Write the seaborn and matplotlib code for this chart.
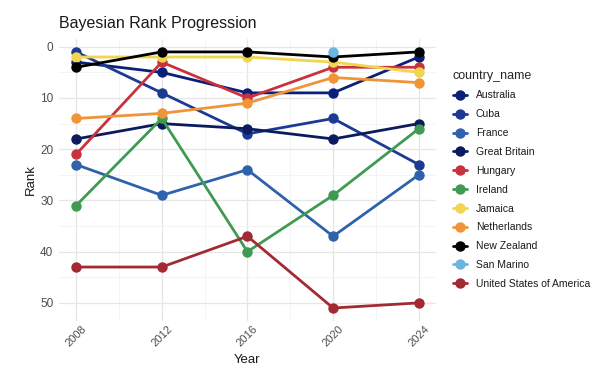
import matplotlib
matplotlib.use("Agg")
import matplotlib.pyplot as plt
import seaborn as sns
import pandas as pd
import numpy as np
from matplotlib.ticker import MultipleLocator

years = [2008, 2012, 2016, 2020, 2024]
countries = ["Australia", "Cuba", "France", "Great Britain", "Hungary", "Ireland",
             "Jamaica", "Netherlands", "New Zealand", "San Marino", "United States of America"]
australia = [3, 5, 9, 9, 2]
cuba = [1, 9, 17, 14, 23]
france = [23, 29, 24, 37, 25]
great_britain = [18, 15, 16, 18, 15]
hungary = [21, 3, 10, 4, 4]
ireland = [31, 14, 40, 29, 16]
jamaica = [2, 2, 2, 3, 5]
netherlands = [14, 13, 11, 6, 7]
new_zealand = [4, 1, 1, 2, 1]
san_marino_years = [2020]
san_marino = [1]
usa = [43, 43, 37, 51, 50]

colors = ["#0a1f7a", "#1a3a94", "#2f62aa", "#0b1b5e", "#c8323c", "#3f9a52",
          "#f2d54e", "#ef9538", "#000000", "#6cb4e2", "#a32a32"]

series = {
    "Australia": (years, australia), "Cuba": (years, cuba), "France": (years, france),
    "Great Britain": (years, great_britain), "Hungary": (years, hungary),
    "Ireland": (years, ireland), "Jamaica": (years, jamaica),
    "Netherlands": (years, netherlands), "New Zealand": (years, new_zealand),
    "San Marino": (san_marino_years, san_marino), "United States of America": (years, usa),
}
rows = []
for c in countries:
    xs, ys = series[c]
    for x, y in zip(xs, ys):
        rows.append({"Year": x, "Rank": y, "country_name": c})
df = pd.DataFrame(rows)

sns.set_theme(style="whitegrid")
plt.rcParams['font.family'] = ['Liberation Sans', 'DejaVu Sans']

fig = plt.figure(figsize=(6.14, 3.87), dpi=100)
ax = fig.add_axes([0.096, 0.171, 0.614, 0.728])
sns.lineplot(data=df, x="Year", y="Rank", hue="country_name", hue_order=countries,
             palette=dict(zip(countries, colors)), marker="o", markersize=7.5,
             markeredgewidth=0, linewidth=2.0, ax=ax, legend=True)

ax.set_xlim(2007.2, 2024.8)
ax.set_ylim(53.5, -1.5)
ax.set_xticks(years)
ax.set_xticklabels([str(y) for y in years], rotation=45, fontsize=8, color="#4d4d4d")
ax.yaxis.set_major_locator(MultipleLocator(10))
ax.yaxis.set_minor_locator(MultipleLocator(5))
ax.xaxis.set_minor_locator(MultipleLocator(2))
ax.tick_params(axis="y", labelsize=8.5, colors="#4d4d4d", length=0, pad=4)
ax.tick_params(axis="x", length=0, pad=2)
ax.grid(which="major", color="#e6e6e6", linewidth=0.9)
ax.grid(which="minor", color="#f0f0f0", linewidth=0.5)
for s in ax.spines.values():
    s.set_visible(False)
ax.set_xlabel("Year", fontsize=9.5, color="#1a1a1a")
ax.set_ylabel("Rank", fontsize=9.5, color="#1a1a1a", labelpad=2)
ax.set_title("Bayesian Rank Progression", fontsize=11.5, loc="left", x=0.0, pad=8, color="#1a1a1a")

leg = ax.legend(title="country_name", loc="upper left", bbox_to_anchor=(1.02, 0.925),
                frameon=False, fontsize=7.5, title_fontsize=9, handlelength=1.4,
                labelspacing=0.85, alignment="left")
for t in leg.get_texts():
    t.set_color("#1a1a1a")

fig.savefig("out.png", dpi=100)
